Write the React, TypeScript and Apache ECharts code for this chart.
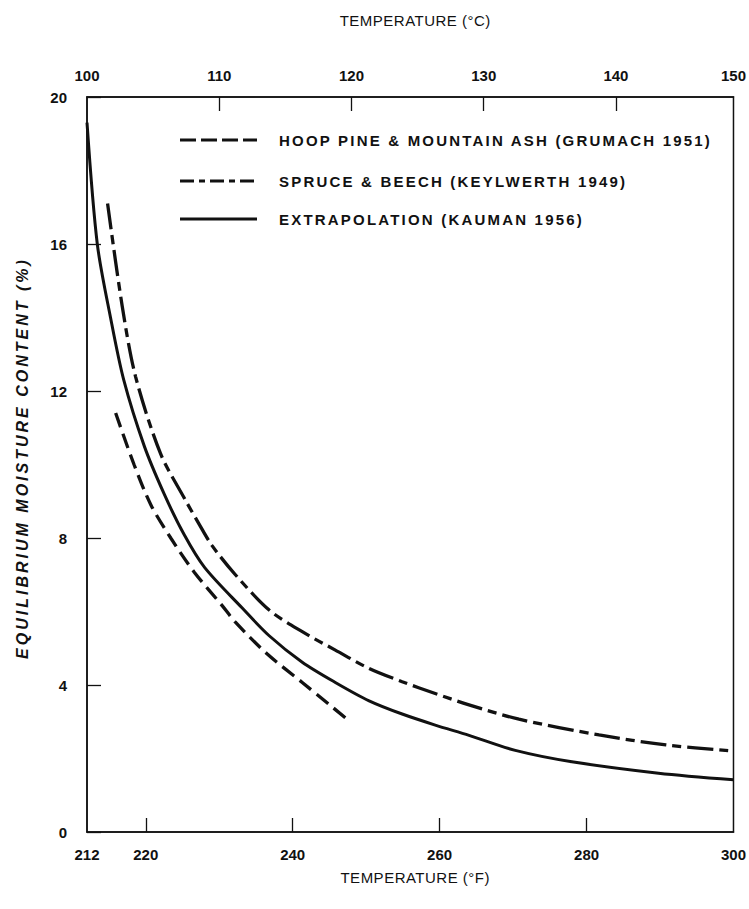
import React, { useEffect, useRef } from "react";
import * as echarts from "echarts";

// Temperatures in °F, equilibrium moisture content in %
const grumachHoopPine: [number, number][] = [
  [215.9, 11.4], [218.4, 10.0], [220.7, 8.9], [223.4, 8.0], [226.6, 7.07],
  [230.4, 6.16], [232.2, 5.71], [236.5, 4.85], [241.3, 4.07], [244.9, 3.48], [247.4, 3.07],
];

const keylwerthSpruce: [number, number][] = [
  [214.8, 17.1], [216.8, 14.3], [218.6, 12.4], [222.0, 10.3], [225.2, 9.1],
  [227.2, 8.4], [229.0, 7.8], [232.2, 7.0], [236.8, 6.04], [241.3, 5.45],
  [245.8, 4.95], [250.4, 4.45], [254.9, 4.09], [259.4, 3.77], [264.0, 3.46],
  [270.8, 3.07], [281.7, 2.64], [290.8, 2.37], [300.0, 2.2],
];

const kaumanExtrapolation: [number, number][] = [
  [212.0, 19.3], [213.4, 16.0], [215.2, 14.0], [217.0, 12.3], [219.8, 10.5],
  [222.5, 9.2], [225.2, 8.1], [228.0, 7.2], [233.1, 6.1], [236.8, 5.34],
  [241.3, 4.62], [245.8, 4.07], [250.4, 3.57], [254.9, 3.21], [259.4, 2.91],
  [264.0, 2.63], [270.3, 2.22], [278.0, 1.91], [289.8, 1.6], [300.0, 1.42],
];

const fahrenheitTicks = [212, 220, 240, 260, 280, 300];
const celsiusTicks = [100, 110, 120, 130, 140, 150];
const moistureTicks = [0, 4, 8, 12, 16, 20];

const legendNames = [
  "HOOP PINE & MOUNTAIN ASH (GRUMACH 1951)",
  "SPRUCE & BEECH (KEYLWERTH 1949)",
  "EXTRAPOLATION (KAUMAN 1956)",
];

const TITLE_C = "TEMPERATURE (°C)";
const TITLE_F = "TEMPERATURE (°F)";
const TITLE_Y = "EQUILIBRIUM MOISTURE CONTENT (%)";

const F_MIN = 212;
const F_MAX = 300;
const INK = "#111";
const FONT = "'Liberation Sans', Arial, Helvetica, sans-serif";

// Celsius tick positions on the Fahrenheit scale (the last one sits on the frame)
const celsiusPositions = celsiusTicks.map((c) => Math.min(F_MAX, c * 1.8 + 32));

const dashGrumach = [15, 7];
const dashKeylwerth = [26, 6, 9, 6];
const legendDashGrumach = [16, 5];
const legendDashKeylwerth = [14, 5, 6, 5];

// Wide tracking for the lettering, applied to the SVG text nodes
const tracking: Record<string, string> = {
  [legendNames[0]]: "2.2px",
  [legendNames[1]]: "2.2px",
  [legendNames[2]]: "2.2px",
  [TITLE_C]: "0.5px",
  [TITLE_F]: "0.5px",
  [TITLE_Y]: "3px",
};

export default function App() {
  const ref = useRef<HTMLDivElement>(null);

  useEffect(() => {
    const el = ref.current;
    if (!el) return;
    const chart = echarts.init(el, undefined, { renderer: "svg" });

    const labelStyle = { color: INK, fontFamily: FONT, fontSize: 15, fontWeight: "bold" as const };
    const tickStyle = { color: INK, width: 1.3 };

    const legendLineX0 = 180;
    const legendLineX1 = 257;
    const legendRows = [140, 181, 219];
    const legendDashes: (number[] | null)[] = [legendDashGrumach, legendDashKeylwerth, null];

    const graphics: any[] = [];
    legendNames.forEach((name, i) => {
      graphics.push({
        type: "line",
        shape: { x1: legendLineX0, y1: legendRows[i], x2: legendLineX1, y2: legendRows[i] },
        style: {
          stroke: INK,
          lineWidth: 3,
          lineDash: legendDashes[i] || undefined,
        },
        z: 10,
      });
      graphics.push({
        type: "text",
        x: 279,
        y: legendRows[i],
        style: {
          text: name,
          fill: INK,
          font: `bold 15px ${FONT}`,
          verticalAlign: "middle",
        },
        z: 10,
      });
    });

    // Vertical axis title
    graphics.push({
      type: "text",
      x: 22,
      y: 458,
      rotation: Math.PI / 2,
      style: {
        text: TITLE_Y,
        fill: INK,
        font: `italic bold 16px ${FONT}`,
        align: "center",
        verticalAlign: "middle",
      },
      z: 10,
    });

    const titleStyle = { color: INK, fontFamily: FONT, fontSize: 15, padding: [0, 0, 0, 10] };

    chart.setOption({
      animation: false,
      backgroundColor: "#fff",
      grid: {
        left: 87,
        right: 13,
        top: 97,
        bottom: 77,
        show: true,
        borderColor: INK,
        borderWidth: 1.5,
        backgroundColor: "transparent",
      },
      graphic: graphics,
      xAxis: [
        {
          type: "value",
          position: "bottom",
          min: F_MIN,
          max: F_MAX,
          name: TITLE_F,
          nameLocation: "middle",
          nameGap: 38,
          nameTextStyle: titleStyle,
          axisLine: { show: true, lineStyle: { color: INK, width: 1.5 } },
          axisTick: {
            show: true,
            inside: true,
            length: 14,
            lineStyle: tickStyle,
            customValues: fahrenheitTicks.slice(1, -1),
          },
          axisLabel: {
            ...labelStyle,
            margin: 15,
            customValues: fahrenheitTicks,
            formatter: (v: number) => String(Math.round(v)),
          },
          splitLine: { show: false },
        },
        {
          type: "value",
          position: "top",
          min: F_MIN,
          max: F_MAX,
          name: TITLE_C,
          nameLocation: "middle",
          nameGap: 69,
          nameTextStyle: titleStyle,
          axisLine: { show: true, lineStyle: { color: INK, width: 1.5 } },
          axisTick: {
            show: true,
            inside: true,
            length: 14,
            lineStyle: tickStyle,
            customValues: celsiusPositions.slice(1, -1),
          },
          axisLabel: {
            ...labelStyle,
            margin: 14,
            customValues: celsiusPositions,
            formatter: (v: number) => {
              const idx = celsiusPositions.findIndex((p) => Math.abs(p - v) < 0.01);
              return idx >= 0 ? String(celsiusTicks[idx]) : "";
            },
          },
          splitLine: { show: false },
        },
      ],
      yAxis: {
        type: "value",
        min: moistureTicks[0],
        max: moistureTicks[moistureTicks.length - 1],
        interval: 4,
        axisLine: { show: true, lineStyle: { color: INK, width: 1.5 } },
        axisTick: { show: true, inside: true, length: 14, lineStyle: tickStyle },
        axisLabel: { ...labelStyle, margin: 20 },
        splitLine: { show: false },
      },
      series: [
        {
          name: legendNames[0],
          type: "line",
          data: grumachHoopPine,
          showSymbol: false,
          symbol: "none",
          smooth: 0.3,
          lineStyle: { color: INK, width: 3.3, type: dashGrumach },
        },
        {
          name: legendNames[1],
          type: "line",
          data: keylwerthSpruce,
          showSymbol: false,
          symbol: "none",
          smooth: 0.3,
          lineStyle: { color: INK, width: 3.3, type: dashKeylwerth },
        },
        {
          name: legendNames[2],
          type: "line",
          data: kaumanExtrapolation,
          showSymbol: false,
          symbol: "none",
          smooth: 0.3,
          lineStyle: { color: INK, width: 3, type: "solid" },
        },
      ],
    });

    const applyTracking = () => {
      el.querySelectorAll("text").forEach((t) => {
        const ls = tracking[(t.textContent || "").trim()];
        if (ls) (t as SVGTextElement).style.letterSpacing = ls;
      });
    };
    applyTracking();
    chart.on("finished", applyTracking);

    return () => chart.dispose();
  }, []);

  return (
    <div
      ref={ref}
      style={{ position: "absolute", left: 0, top: 0, width: 749, height: 909, background: "#fff" }}
    />
  );
}
